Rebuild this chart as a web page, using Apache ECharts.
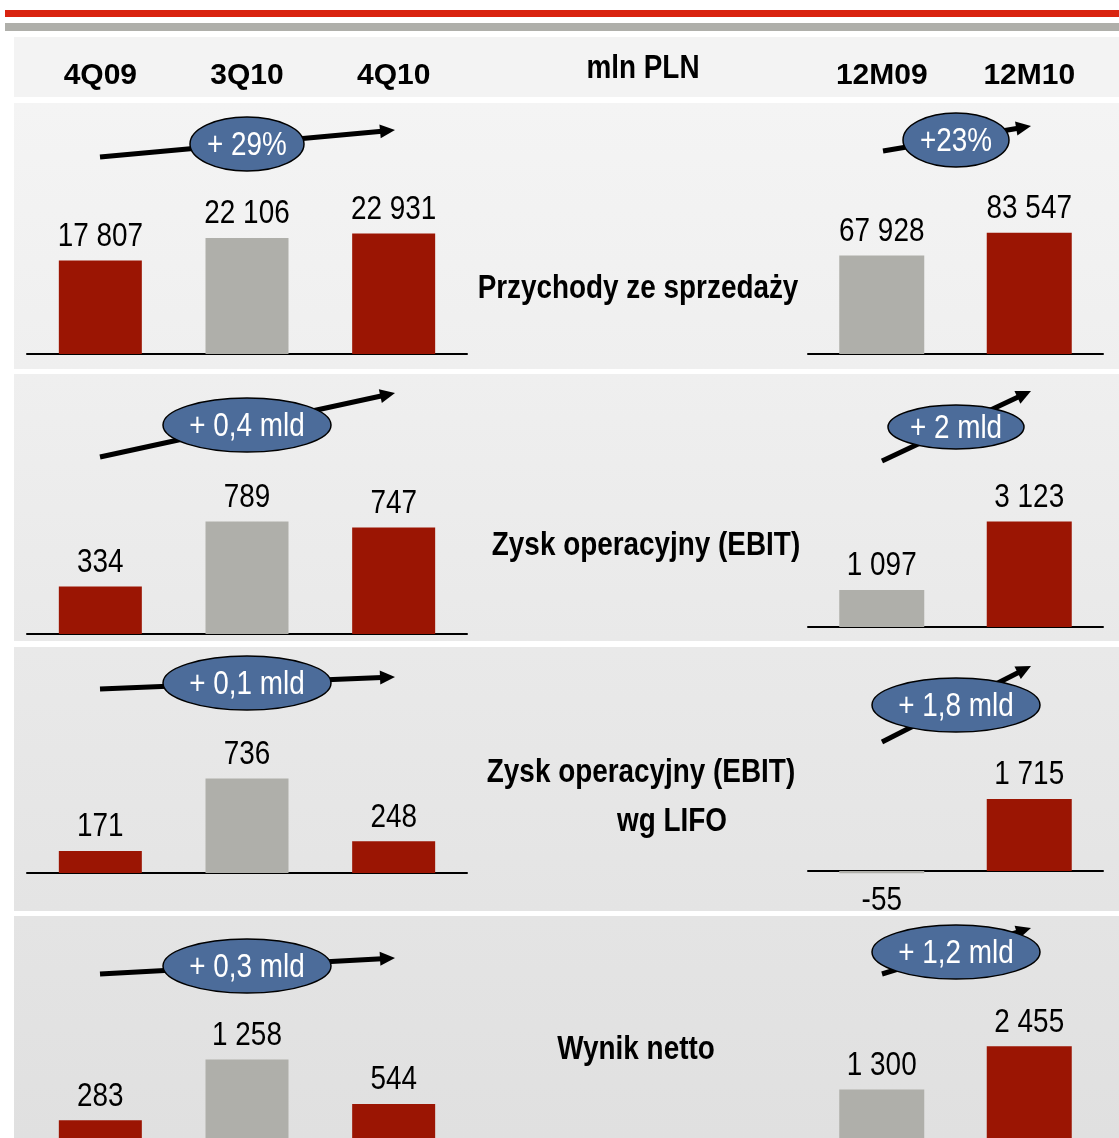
<!DOCTYPE html>
<html>
<head>
<meta charset="utf-8">
<title>Wyniki 4Q10</title>
<script src="https://cdn.jsdelivr.net/npm/echarts@6/dist/echarts.min.js"></script>
<style>
html, body { margin: 0; padding: 0; background: #ffffff; }
#chart { width: 1119px; height: 1138px; }
</style>
</head>
<body>
<div id="chart"></div>
<script>
// categories
var quarters = ['4Q09', '3Q10', '4Q10'];
var years = ['12M09', '12M10'];
var unitLabel = 'mln PLN';
var metricLines = [
    ['Przychody ze sprzedaży'],
    ['Zysk operacyjny (EBIT)'],
    ['Zysk operacyjny (EBIT)', 'wg LIFO'],
    ['Wynik netto']
];

// quarterly values (mln PLN)
var revenueQ = [17807, 22106, 22931];
var ebitQ = [334, 789, 747];
var ebitLifoQ = [171, 736, 248];
var netQ = [283, 1258, 544];

// full-year values (mln PLN)
var revenueY = [67928, 83547];
var ebitY = [1097, 3123];
var ebitLifoY = [-55, 1715];
var netY = [1300, 2455];

// change bubbles
var changeQ = ['+ 29%', '+ 0,4 mld', '+ 0,1 mld', '+ 0,3 mld'];
var changeY = ['+23%', '+ 2 mld', '+ 1,8 mld', '+ 1,2 mld'];

var FONT = '"Liberation Sans", Arial, sans-serif';
var NARROW = 0.82; // horizontal squeeze to imitate Arial Narrow
var RED = '#9b1503';
var GREY = '#afafaa';
var BLUE = '#4c6c9a';
var qColors = [RED, GREY, RED];
var yColors = [GREY, RED];

var qValues = [revenueQ, ebitQ, ebitLifoQ, netQ];
var yValues = [revenueY, ebitY, ebitLifoY, netY];

// panel layout: background band, baselines and pixel scale of each small chart
var panels = [
    { y0: 103, y1: 369, c0: '#f4f4f4', c1: '#efefef',
      q: { base: 354, max: 40000, scale: 0.00525 },
      y: { base: 354, max: 140000, scale: 0.00145 },
      titles: [[638, 289]],
      qEll: [247, 144, 57, 27], yEll: [956, 140, 53, 27],
      qArr: [100, 157, 395, 130], yArr: [883, 151, 1031, 126] },
    { y0: 374, y1: 641, c0: '#efefef', c1: '#e9e9e9',
      q: { base: 634, max: 1400, scale: 0.1425 },
      y: { base: 627, max: 6000, scale: 0.0338 },
      titles: [[646, 546]],
      qEll: [247, 425, 84, 27], yEll: [956, 427, 68, 22],
      qArr: [100, 457, 395, 393], yArr: [882, 461, 1031, 391] },
    { y0: 647, y1: 911, c0: '#e9e9e9', c1: '#e4e4e4',
      q: { base: 873, max: 1600, scale: 0.1285 },
      y: { base: 871, min: -1000, max: 5000, scale: 0.042 },
      titles: [[641, 773], [672, 822]],
      qEll: [247, 683, 84, 27], yEll: [956, 705, 84, 27],
      qArr: [100, 689, 395, 677], yArr: [882, 742, 1031, 666] },
    { y0: 916, y1: 1138, c0: '#e4e4e4', c1: '#e0e0e0', noLine: true,
      q: { base: 1141, max: 2400, scale: 0.0636 },
      y: { base: 1141, max: 4000, scale: 0.0381 },
      titles: [[636, 1050]],
      qEll: [247, 966, 84, 27], yEll: [956, 952, 84, 27],
      qArr: [100, 974, 395, 958], yArr: [882, 974, 1031, 928] }
];

function format(v) {
    return (v + '').replace(/\B(?=(\d{3})+(?!\d))/g, ' ');
}

function textStyle(t, opts) {
    return { text: t, fill: opts.color || '#000', fontSize: opts.size || 34,
             fontWeight: opts.bold ? 'bold' : 'normal', fontFamily: FONT,
             align: 'center', verticalAlign: 'middle',
             textAlign: 'center', textVerticalAlign: 'middle' };
}

function text(t, x, y, opts) {
    return { type: 'text', z: opts.z || 40, x: x, y: y, scaleX: NARROW, style: textStyle(t, opts) };
}

function arrow(a) {
    var dx = a[2] - a[0], dy = a[3] - a[1];
    var len = Math.sqrt(dx * dx + dy * dy);
    var ux = dx / len, uy = dy / len;
    var hl = 15, hw = 7;
    var bx = a[2] - ux * hl, by = a[3] - uy * hl;
    return [
        { type: 'line', z: 50, shape: { x1: a[0], y1: a[1], x2: bx + ux * 2, y2: by + uy * 2 },
          style: { stroke: '#000', lineWidth: 5 } },
        { type: 'polygon', z: 50,
          shape: { points: [[a[2], a[3]], [bx - uy * hw, by + ux * hw], [bx + uy * hw, by - ux * hw]] },
          style: { fill: '#000' } }
    ];
}

function bubble(e, t) {
    return [
        { type: 'ellipse', z: 60, shape: { cx: e[0], cy: e[1], rx: e[2], ry: e[3] },
          style: { fill: BLUE, stroke: '#000', lineWidth: 1.5 } },
        text(t, e[0], e[1] + 2, { color: '#fff', size: 34, z: 61 })
    ];
}

// bar with its value written above (or below, when negative)
function barRenderer(colors, barWidth) {
    return function (params, api) {
        var v = api.value(1);
        var end = api.coord([api.value(0), v]);
        var zero = api.coord([api.value(0), 0]);
        var y = Math.min(end[1], zero[1]);
        var h = Math.abs(zero[1] - end[1]);
        return {
            type: 'group',
            children: [
                { type: 'rect', shape: { x: end[0] - barWidth / 2, y: y, width: barWidth, height: h },
                  style: { fill: colors[params.dataIndex] } },
                { type: 'text', x: end[0], y: v < 0 ? end[1] + 27 : end[1] - 24, scaleX: NARROW,
                  style: textStyle(format(v), { size: 34 }) }
            ]
        };
    };
}

var graphic = [
    { type: 'rect', z: -10, shape: { x: 5, y: 10, width: 1114, height: 7 }, style: { fill: '#d9230f' } },
    { type: 'rect', z: -10, shape: { x: 5, y: 23, width: 1114, height: 8 }, style: { fill: '#afafaa' } },
    { type: 'rect', z: -10, shape: { x: 14, y: 37, width: 1105, height: 60 }, style: { fill: '#f3f3f3' } },
    text(unitLabel, 643, 69, { bold: true, size: 34 })
];

var grids = [], xAxes = [], yAxes = [], series = [];

function addChart(cats, values, colors, cfg, left, width, barWidth, showLine, headerMargin) {
    var idx = grids.length;
    var min = cfg.min || 0;
    grids.push({
        left: left, width: width,
        top: cfg.base - cfg.max * cfg.scale,
        height: (cfg.max - min) * cfg.scale
    });
    xAxes.push({
        type: 'category', gridIndex: idx, data: cats,
        axisLine: { show: showLine, onZero: true, lineStyle: { color: '#000', width: 2 } },
        axisTick: { show: false }, axisLabel: { show: false }, splitLine: { show: false }
    });
    var bottomAxis = xAxes.length - 1;
    if (headerMargin != null) {
        xAxes.push({
            type: 'category', gridIndex: idx, data: cats, position: 'top',
            axisLine: { show: false, onZero: false }, axisTick: { show: false },
            axisLabel: { show: true, margin: headerMargin, color: '#000', fontSize: 30,
                         fontWeight: 'bold', fontFamily: FONT, lineHeight: 30 }
        });
    }
    yAxes.push({ type: 'value', gridIndex: idx, min: min, max: cfg.max, show: false, splitLine: { show: false } });
    series.push({
        type: 'custom', xAxisIndex: bottomAxis, yAxisIndex: idx, z: 3,
        renderItem: barRenderer(colors, barWidth),
        data: values.map(function (v, i) { return [i, v]; })
    });
}

panels.forEach(function (p, i) {
    graphic.push({ type: 'rect', z: -10, shape: { x: 14, y: p.y0, width: 1105, height: p.y1 - p.y0 },
        style: { fill: new echarts.graphic.LinearGradient(0, 0, 0, 1, [
            { offset: 0, color: p.c0 }, { offset: 1, color: p.c1 }]) } });
    metricLines[i].forEach(function (t, k) {
        graphic.push(text(t, p.titles[k][0], p.titles[k][1], { bold: true, size: 34 }));
    });
    graphic = graphic.concat(arrow(p.qArr), arrow(p.yArr), bubble(p.qEll, changeQ[i]), bubble(p.yEll, changeY[i]));
    addChart(quarters, qValues[i], qColors, p.q, 27, 440, 83, !p.noLine, i === 0 ? 53 : null);
    addChart(years, yValues[i], yColors, p.y, 808, 295, 85, !p.noLine, i === 0 ? 60 : null);
});

var chart = echarts.init(document.getElementById('chart'), null, { renderer: 'canvas' });
chart.setOption({
    backgroundColor: '#ffffff',
    animation: false,
    grid: grids,
    xAxis: xAxes,
    yAxis: yAxes,
    series: series,
    graphic: graphic
});
</script>
</body>
</html>
